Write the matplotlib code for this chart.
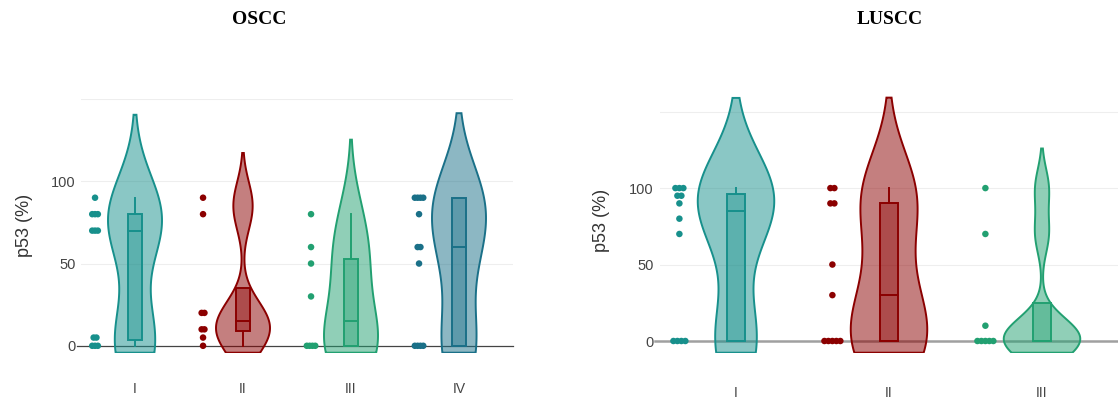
import numpy as np
import matplotlib
matplotlib.use("Agg")
import matplotlib.pyplot as plt
from matplotlib.patches import Polygon, Rectangle
import matplotlib.transforms as mtransforms

# p53 staining (%) per tumour stage
oscc_stages = ["I", "II", "III", "IV"]
oscc_I = [0, 0, 0, 5, 5, 70, 70, 70, 80, 80, 80, 90]
oscc_II = [0, 5, 10, 10, 20, 20, 80, 90]
oscc_III = [0, 0, 0, 0, 30, 50, 60, 80]
oscc_IV = [0, 0, 0, 0, 50, 60, 60, 80, 90, 90, 90, 90]

luscc_stages = ["I", "II", "III"]
luscc_I = [0, 0, 0, 0, 70, 80, 90, 95, 95, 100, 100, 100]
luscc_II = [0, 0, 0, 0, 0, 30, 50, 90, 90, 100, 100]
luscc_III = [0, 0, 0, 0, 0, 10, 70, 100]

TEAL = "#17908c"
RED = "#8b0000"
GREEN = "#22a071"
BLUE = "#1a7088"

plt.rcParams["font.family"] = ["Liberation Sans", "DejaVu Sans"]


def silverman_bw(v):
    sd = v.std(ddof=1)
    q1, q3 = np.percentile(v, [25, 75])
    iqr = (q3 - q1) / 1.349
    s = min(sd, iqr) if iqr > 0 else sd
    return 1.059 * s * len(v) ** -0.2


def draw_group(ax, pos, vals, color, ybottom, half=0.25, box_half=0.062,
               dot_off=-0.37, dot_step=0.026):
    v = np.asarray(vals, float)
    bw = silverman_bw(v)
    y = np.linspace(v.min() - 2 * bw, v.max() + 2 * bw, 600)
    d = np.exp(-0.5 * ((y[:, None] - v[None, :]) / bw) ** 2).sum(1)
    d = d / d.max() * half
    keep = y >= ybottom
    yb = np.concatenate([[ybottom], y[keep]])
    db = np.concatenate([[np.interp(ybottom, y, d)], d[keep]])
    xs = np.concatenate([pos + db, (pos - db)[::-1]])
    ys = np.concatenate([yb, yb[::-1]])
    ax.add_patch(Polygon(np.column_stack([xs, ys]), closed=True,
                         facecolor=color, alpha=0.5, edgecolor="none", zorder=2))
    ax.add_patch(Polygon(np.column_stack([xs, ys]), closed=True,
                         facecolor="none", edgecolor=color, lw=1.4, zorder=3))

    # box
    q1, med, q3 = np.percentile(v, [25, 50, 75])
    iqr = q3 - q1
    upper = v[v <= q3 + 1.5 * iqr].max()
    lower = v[v >= q1 - 1.5 * iqr].min()
    ax.add_patch(Rectangle((pos - box_half, q1), 2 * box_half, q3 - q1,
                           facecolor=color, alpha=0.4, edgecolor="none", zorder=4))
    ax.add_patch(Rectangle((pos - box_half, q1), 2 * box_half, q3 - q1,
                           facecolor="none", edgecolor=color, lw=1.4, zorder=5))
    ax.plot([pos - box_half, pos + box_half], [med, med], color=color, lw=1.4, zorder=5)
    if upper > q3:
        ax.plot([pos, pos], [q3, upper], color=color, lw=1.4, zorder=5)
    if lower < q1:
        ax.plot([pos, pos], [lower, q1], color=color, lw=1.4, zorder=5)

    # points, repeated values placed side by side
    xs_pts, ys_pts = [], []
    for val in np.unique(v):
        k = int((v == val).sum())
        for i in range(k):
            xs_pts.append(pos + dot_off + (i - (k - 1) / 2) * dot_step)
            ys_pts.append(val)
    ax.scatter(xs_pts, ys_pts, s=22, color=color, edgecolors="none", zorder=6,
               clip_on=False)


def style_axes(ax, stages, ylim, zero_color, zero_lw, xpad):
    ax.set_xlim(0.5, len(stages) + 0.5)
    ax.set_ylim(*ylim)
    for s in ax.spines.values():
        s.set_visible(False)
    for g in (50, 100, 150):
        ax.axhline(g, color="#eeeeee", lw=0.8, zorder=0)
    trans = mtransforms.blended_transform_factory(ax.transAxes, ax.transData)
    ax.plot([-0.01, 1.0], [0, 0], color=zero_color, lw=zero_lw, zorder=1,
            transform=trans, clip_on=False)
    ax.set_xticks(range(1, len(stages) + 1))
    ax.set_xticklabels(stages)
    ax.set_yticks([0, 50, 100])
    ax.tick_params(axis="both", length=0, colors="#444444")
    ax.tick_params(axis="x", pad=xpad, labelsize=10)
    ax.tick_params(axis="y", pad=4, labelsize=10.5)
    ax.set_ylabel("p53 (%)", fontsize=13, color="#333333")


fig = plt.figure(figsize=(11.18, 4.0), dpi=100)

ax1 = fig.add_axes([81 / 1118, 47.3 / 400, 432 / 1118, 253.7 / 400])
style_axes(ax1, oscc_stages, (-4.2, 150), "#444444", 0.9, 21)
for i, (vals, col) in enumerate(zip([oscc_I, oscc_II, oscc_III, oscc_IV],
                                    [TEAL, RED, GREEN, BLUE])):
    draw_group(ax1, i + 1, vals, col, -4.2)
ax1.yaxis.set_label_coords(-0.111, 0.5)

ax2 = fig.add_axes([659.5 / 1118, 47.3 / 400, 459 / 1118, 264 / 400])
style_axes(ax2, luscc_stages, (-7.65, 165), "#a0a0a0", 1.8, 24)
for i, (vals, col) in enumerate(zip([luscc_I, luscc_II, luscc_III],
                                    [TEAL, RED, GREEN])):
    draw_group(ax2, i + 1, vals, col, -7.65)
ax2.yaxis.set_label_coords(-0.108, 0.5)

fig.text(259 / 1118, 1 - 20 / 400, "OSCC", ha="center", va="center",
         fontsize=14, fontweight="bold", family="Liberation Serif")
fig.text(890 / 1118, 1 - 20 / 400, "LUSCC", ha="center", va="center",
         fontsize=14, fontweight="bold", family="Liberation Serif")

fig.savefig("out.png", dpi=100)
